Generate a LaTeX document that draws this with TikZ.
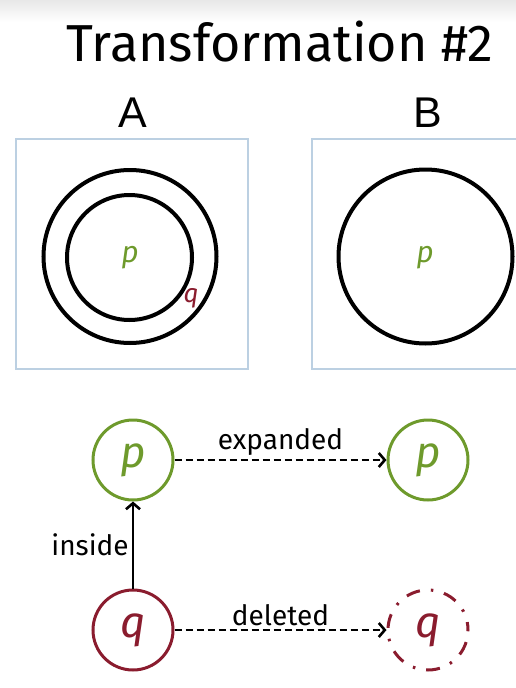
\documentclass[tikz,border=0pt]{standalone}
\usepackage{fontspec}
\setmainfont{Fira Sans}
\newfontfamily\labfont{Liberation Sans}
\usetikzlibrary{arrows.meta}
\definecolor{pgreen}{HTML}{6E9A2C}
\definecolor{qred}{HTML}{8A1C2E}
\definecolor{boxblue}{HTML}{BCD0E2}
\tikzset{
  hand/.style={font=\fontsize{#1}{#1}\selectfont},
  frame/.style={draw=boxblue,line width=2.5pt},
  ring/.style={draw=black,line width=4pt},
  gnode/.style={circle,line width=3pt,minimum size=80pt,inner sep=0pt,font=\fontsize{44}{44}\selectfont\itshape},
  pnode/.style={gnode,draw=pgreen,text=pgreen},
  qnode/.style={gnode,draw=qred,text=qred},
  qgone/.style={gnode,draw=qred,text=qred,dash pattern=on 14pt off 11pt on 2.5pt off 11pt,dash phase=6pt},
  conn/.style={line width=2pt,-{Straight Barb[length=6pt,width=14pt,line width=2.6pt]}},
  dconn/.style={conn,dash pattern=on 7pt off 4pt},
}
\begin{document}
\begin{tikzpicture}[x=1pt,y=-1pt]
\useasboundingbox (0,0) rectangle (516,688);
\shade[top color=black!9,bottom color=white] (0,0) rectangle (516,22);
% title
\node[hand=52] (title) at (280,42) {Transformation \#2};
\node[font=\labfont\fontsize{43}{43}\selectfont] (la) at (133,113) {A};
\node[font=\labfont\fontsize{43}{43}\selectfont] (lb) at (428,113) {B};
% box A
\draw[frame] (16,139) rectangle (248,369);
\draw[ring] (130,256.5) circle[radius=86.5pt];
\draw[ring] (129.5,257.5) circle[radius=62.5pt];
\node[text=pgreen,font=\fontsize{30}{30}\selectfont\itshape] (pa) at (130,258) {p};
\node[text=qred,font=\fontsize{26}{26}\selectfont\itshape] (qa) at (191,298) {q};
% box B
\draw[frame] (516,139) -- (312,139) -- (312,369) -- (516,369);
\draw[ring] (425.5,256.5) circle[radius=87pt];
\node[text=pgreen,font=\fontsize{30}{30}\selectfont\itshape] (pb) at (425,258) {p};
% graph
\node[pnode] (p1) at (133,460) {p};
\node[pnode] (p2) at (428,460) {p};
\node[qnode] (q1) at (133,630) {q};
\node[qgone] (q2) at (428,630) {q};
\draw[dconn] (p1) -- node[above=0pt,hand=28] (le) {expanded} (p2);
\draw[dconn] (q1) -- node[above=0pt,hand=28] (ld) {deleted} (q2);
\draw[conn] (q1) -- node[left=0pt,hand=28] (li) {inside} (p1);
\end{tikzpicture}
\end{document}
